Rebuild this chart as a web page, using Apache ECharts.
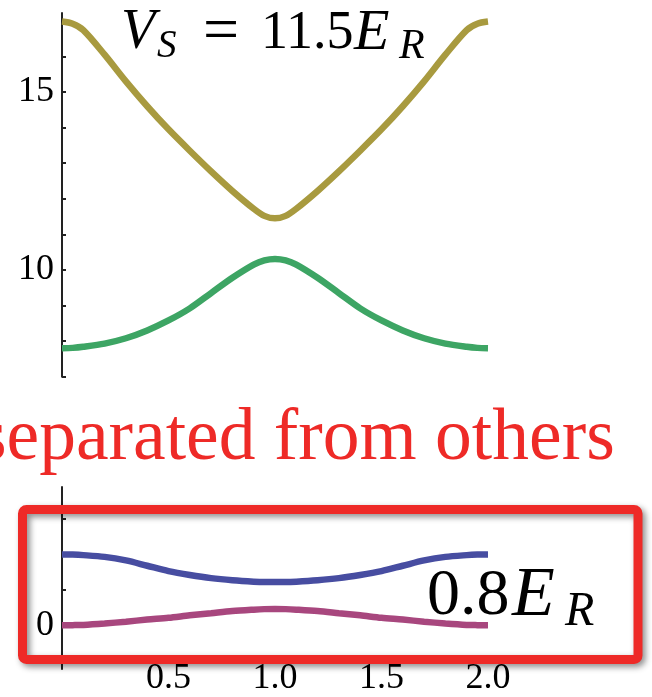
<!DOCTYPE html>
<html>
<head>
<meta charset="utf-8">
<script src="https://cdn.jsdelivr.net/npm/echarts@6/dist/echarts.min.js"></script>
<style>
html,body{margin:0;padding:0;background:#fff;}
#chart{width:652px;height:697px;}
</style>
</head>
<body>
<div id="chart"></div>
<script>
// ---- data ----
var xValues = [0,0.05,0.1,0.2,0.3,0.4,0.5,0.6,0.7,0.8,0.9,0.95,1.0,1.05,1.1,1.2,1.3,1.4,1.5,1.6,1.7,1.8,1.9,1.95,2.0];
var band4 = [16.98,16.92,16.74,16.05,15.30,14.60,13.95,13.35,12.77,12.22,11.72,11.52,11.45,11.52,11.72,12.22,12.77,13.35,13.95,14.60,15.30,16.05,16.74,16.92,16.98];
var band3 = [7.80,7.81,7.84,7.93,8.08,8.30,8.58,8.92,9.35,9.78,10.15,10.27,10.31,10.27,10.15,9.78,9.35,8.92,8.58,8.30,8.08,7.93,7.84,7.81,7.80];
var band2 = [2.00,1.995,1.98,1.93,1.83,1.68,1.53,1.42,1.33,1.27,1.23,1.22,1.22,1.22,1.23,1.27,1.33,1.42,1.53,1.68,1.83,1.93,1.98,1.995,2.00];
var band1 = [0.00,0.003,0.01,0.05,0.10,0.16,0.21,0.28,0.34,0.40,0.44,0.455,0.46,0.455,0.44,0.40,0.34,0.28,0.21,0.16,0.10,0.05,0.01,0.003,0.00];
var topTicks = [7,8,9,10,11,12,13,14,15,16,17];
var topLabels = [10,15];
var bottomTicks = [-1,0,1,2,3];
var bottomLabels = [0];
var xLabels = [0.5,1.0,1.5,2.0];
var titleText = ['V','S','=','11.5','E','R'];
var noteText = 'separated from others';
var gapText = ['0.8','E','R'];

function pairs(xs, ys){ var out=[]; for(var i=0;i<xs.length;i++){ out.push([xs[i], ys[i]]); } return out; }

var SERIF = 'Liberation Serif';
var RED = '#EE2A27';

var chart = echarts.init(document.getElementById('chart'));

function yAxisCommon(min, max, ticks, labels, gridIndex){
  return {
    type:'value', gridIndex:gridIndex, min:min, max:max,
    axisLine:{show:true, lineStyle:{color:'#222', width:2}},
    axisTick:{show:true, inside:true, length:4, lineStyle:{color:'#222', width:2}, customValues:ticks},
    axisLabel:{show:true, customValues:labels, margin:8, color:'#000', fontFamily:SERIF, fontSize:36},
    splitLine:{show:false}
  };
}

function txt(x, y, text, size, italic, color){
  return {type:'text', x:x, y:y,
    style:{text:text, font:(italic ? 'italic ' : '') + size + 'px "Liberation Serif"',
      fill:color || '#000', verticalAlign:'middle'}};
}

var lineCommon = {type:'line', showSymbol:false, symbol:'none', smooth:0.3, silent:true};

chart.setOption({
  animation:false,
  backgroundColor:'#fff',
  grid:[
    {left:62, top:13, width:426, height:363.7, containLabel:false},
    {left:62, top:487, width:426, height:183, containLabel:false}
  ],
  xAxis:[
    {type:'value', gridIndex:0, min:0, max:2, show:false},
    {type:'value', gridIndex:1, min:0, max:2,
      axisLine:{show:false}, axisTick:{show:false}, splitLine:{show:false},
      axisLabel:{show:true, customValues:xLabels, margin:-8, color:'#000', fontFamily:SERIF, fontSize:36,
        formatter:function(v){ return v.toFixed(1); }}
    }
  ],
  yAxis:[
    yAxisCommon(7, 17.22, topTicks, topLabels, 0),
    yAxisCommon(-1.236, 3.904, bottomTicks, bottomLabels, 1)
  ],
  series:[
    Object.assign({}, lineCommon, {name:'band4', xAxisIndex:0, yAxisIndex:0, data:pairs(xValues, band4), lineStyle:{color:'#A89A3F', width:6.5, cap:'butt'}}),
    Object.assign({}, lineCommon, {name:'band3', xAxisIndex:0, yAxisIndex:0, data:pairs(xValues, band3), lineStyle:{color:'#3DA564', width:6.5, cap:'butt'}}),
    Object.assign({}, lineCommon, {name:'band2', xAxisIndex:1, yAxisIndex:1, data:pairs(xValues, band2), lineStyle:{color:'#474DA1', width:6.5, cap:'butt'}}),
    Object.assign({}, lineCommon, {name:'band1', xAxisIndex:1, yAxisIndex:1, data:pairs(xValues, band1), lineStyle:{color:'#A8477E', width:6.5, cap:'butt'}})
  ],
  graphic:[
    {type:'rect', z:5, silent:true,
      shape:{x:22.5, y:509.5, width:615.5, height:150, r:4},
      style:{fill:'none', stroke:RED, lineWidth:9, shadowBlur:6, shadowColor:'rgba(0,0,0,0.45)', shadowOffsetX:3, shadowOffsetY:3}},
    txt(-22, 440, noteText, 73.5, false, RED),
    // title  V_S = 11.5 E_R
    txt(121, 33.5, titleText[0], 56, true),
    txt(157, 46.5, titleText[1], 39, true),
    txt(203, 33, titleText[2], 64, false),
    txt(261, 33.5, titleText[3], 54, false),
    txt(354, 33.5, titleText[4], 58, true),
    txt(399, 46.5, titleText[5], 42, true),
    // 0.8 E_R
    txt(427, 597, gapText[0], 66, false),
    txt(512, 597, gapText[1], 70, true),
    txt(565, 612, gapText[2], 48, true)
  ]
});
</script>
</body>
</html>
